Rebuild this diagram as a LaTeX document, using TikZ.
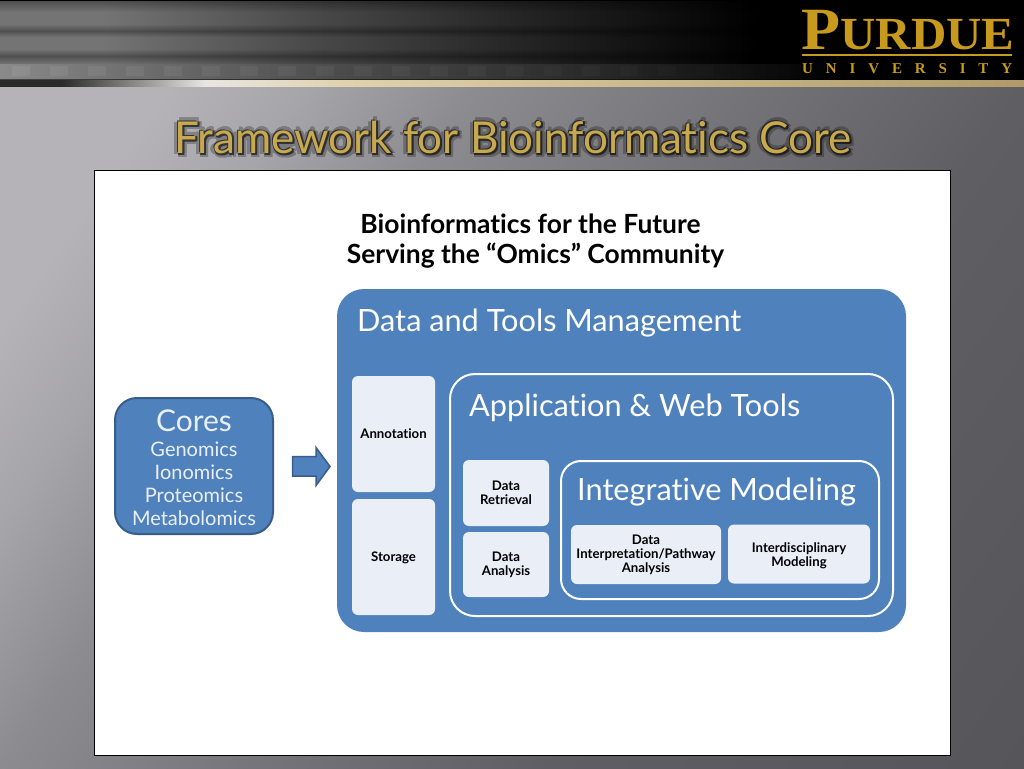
\documentclass[tikz,border=0pt]{standalone}
\usepackage{fontspec}
\setmainfont{Lato}[Ligatures=NoCommon]
\newfontfamily\logofont{Liberation Serif}
\usetikzlibrary{fadings}
\definecolor{corefill}{HTML}{4F81BD}
\definecolor{coreline}{HTML}{385D8A}
\definecolor{paleblue}{HTML}{EAEFF7}
\definecolor{goldtitle}{HTML}{C8A94E}
\definecolor{logogold}{HTML}{C79A1E}
\definecolor{hA}{HTML}{747474}
\definecolor{hB}{HTML}{4A4A4A}
\definecolor{hC}{HTML}{262626}
\definecolor{hE}{HTML}{8A8A8A}
\definecolor{bgA}{HTML}{B5B3B8}
\definecolor{bgA2}{HTML}{A6A5AA}
\definecolor{bgB}{HTML}{8C8C90}
\definecolor{bgC}{HTML}{747478}
\definecolor{bgD}{HTML}{5F5F63}
\definecolor{bgE}{HTML}{56565A}
\definecolor{barA}{HTML}{2A2A2A}
\definecolor{barB}{HTML}{E8E6E0}
\definecolor{barC}{HTML}{DFD2AC}
\definecolor{barD}{HTML}{B09A68}
\pgfdeclarehorizontalshading{bandA}{100bp}{color(0bp)=(hA);color(25bp)=(hA);color(30bp)=(hA);color(40bp)=(hB);color(50bp)=(hC);color(62bp)=(black);color(100bp)=(black)}
\pgfdeclarehorizontalshading{bandC}{100bp}{color(0bp)=(hE);color(25bp)=(hE);color(30bp)=(hA);color(42bp)=(hB);color(55bp)=(hC);color(66bp)=(black);color(100bp)=(black)}
\pgfdeclarehorizontalshading{barshade}{100bp}{color(0bp)=(barA);color(25bp)=(barA);color(28bp)=(barA);color(35bp)=(barB);color(42bp)=(barC);color(75bp)=(barD);color(100bp)=(barD)}
\pgfdeclarehorizontalshading{bgshade}{100bp}{color(0bp)=(bgA);color(33bp)=(bgA);color(37bp)=(bgA2);color(42bp)=(bgB);color(50bp)=(bgC);color(58bp)=(bgD);color(72bp)=(bgE);color(100bp)=(bgE)}
\tikzset{
  x=1pt,y=-1pt,
  px/.style={font=\fontsize{#1}{#1}\selectfont},
  panelbox/.style={draw=white,line width=2pt,fill=corefill,rounded corners=#1,inner sep=0pt},
  palebox/.style={fill=paleblue,rounded corners=6pt,inner sep=0pt,align=center,text=black,
    font=\fontsize{13.2}{14}\selectfont\bfseries},
  boxtitle/.style={text=white,inner sep=0pt,anchor=west,font=\fontsize{#1}{#1}\selectfont},
  headline/.style={text=black,inner sep=0pt,font=\fontsize{26.4}{27}\selectfont\bfseries},
}
\begin{tikzfadingfrompicture}[name=titleshadow]
  \foreach \dx/\dy in {6/6,2/6,6/2,-2/3,3/-2}{
    \node[text=transparent!75,inner sep=0pt,px=44] at (\dx,\dy) {Framework for Bioinformatics Core};
  }
  \foreach \dx/\dy in {4/4,2/4,4/2,1/1}{
    \node[text=transparent!30,inner sep=0pt,px=44] at (\dx,\dy) {Framework for Bioinformatics Core};
  }
\end{tikzfadingfrompicture}
\newcommand{\lineA}[1]{\fontsize{30}{32}\selectfont\rule{0pt}{26pt}#1}
\newcommand{\lineB}[1]{\fontsize{20}{23}\selectfont #1}
\begin{document}
\begin{tikzpicture}
\useasboundingbox (0,0) rectangle (1024,768);
% background
\begin{scope}
\clip (0,86) rectangle (1024,768);
\fill[shading=bgshade,shading angle=-35] (-188,-273) rectangle (1212,1127);
\end{scope}
% header
\fill[black] (0,0) rectangle (1024,80);
\fill[shading=bandA] (0,1.5) rectangle (1024,64);
\fill[shading=bandC] (0,64) rectangle (1024,79);
\fill[black,opacity=.3,path fading=north] (0,24) rectangle (1024,31);
\fill[black,opacity=.3,path fading=south] (0,31) rectangle (1024,37);
\fill[black,opacity=.3,path fading=north] (0,49) rectangle (1024,56);
\fill[black,opacity=.3,path fading=south] (0,56) rectangle (1024,64);
\fill[black,opacity=.3,path fading=south] (0,1.5) rectangle (1024,12);
\foreach \i in {0,...,21}{
  \pgfmathsetmacro{\op}{0.07*(1-\i/22)}
  \fill[white,opacity=\op] (12+\i*38,66) rectangle (30+\i*38,76);
}
\fill[black,opacity=.5] (0,79) rectangle (1024,80);
\fill[shading=barshade] (0,80) rectangle (1024,86);
% logo
\node[anchor=base west,inner sep=0pt,text=logogold,xscale=1.065] (logoname) at (801,49)
  {\logofont\bfseries\fontsize{60}{60}\selectfont P\fontsize{46}{46}\selectfont URDUE};
\coordinate (ruleL) at (802,55);
\coordinate (ruleR) at (1012,55);
\draw[logogold,line width=1.4pt] (ruleL) -- (ruleR);
\node[anchor=base west,inner sep=0pt,text=logogold] (logosub) at (802,73)
  {\logofont\bfseries\fontsize{15}{15}\selectfont\makebox[210pt][s]{U\hfill N\hfill I\hfill V\hfill E\hfill R\hfill S\hfill I\hfill T\hfill Y}};
% title
\fill[black,path fading=titleshadow,fit fading=false,fading transform={shift={(513,137)}}] (130,95) rectangle (900,168);
\node[text=goldtitle,inner sep=0pt,px=44] (title) at (513,137) {Framework for Bioinformatics Core};
% panel
\draw[black,fill=white,line width=1pt] (94,170) rectangle (950,755);
\node[headline] (head1) at (530.5,224) {Bioinformatics for the Future};
\node[headline] (head2) at (535.5,256) {Serving the “Omics” Community};
% cores
\node[draw=coreline,line width=2pt,fill=corefill,rounded corners=22pt,minimum width=158pt,minimum height=136pt,
  inner sep=0pt,align=center,text=paleblue,font=\fontsize{20}{23}\selectfont] (cores) at (194,466)
  {\lineA{Cores}\\[2pt] \lineB{Genomics}\\ \lineB{Ionomics}\\ \lineB{Proteomics}\\ \lineB{Metabolomics}};
% outer panels
\node[fill=corefill,rounded corners=27pt,minimum width=569pt,minimum height=343pt,inner sep=0pt] (dtm) at (621.5,460.5) {};
\node[panelbox=25pt,minimum width=443pt,minimum height=242pt] (app) at (671.5,495) {};
\node[panelbox=20pt,minimum width=318pt,minimum height=138pt] (integ) at (720,530) {};
% arrow
\draw[coreline,line width=1.5pt,fill=corefill,line join=miter]
  (292.5,456.5) -- (316,456.5) -- (316,447.5) -- (330,466.5) -- (316,485.5) -- (316,476) -- (292.5,476) -- cycle;
% titles
\node[boxtitle=30.7] (dtmlabel) at (357,323) {Data and Tools Management};
\node[boxtitle=30.7] (applabel) at (469,408) {Application \& Web Tools};
\node[boxtitle=30.7] (integlabel) at (577,492) {Integrative Modeling};
% pale boxes
\node[palebox,minimum width=83pt,minimum height=116pt] (annot) at (393.5,434) {};
\node[font=\fontsize{13.2}{14}\selectfont\bfseries,inner sep=0pt] (annotl) at (393.5,434) {Annotation};
\node[palebox,minimum width=83pt,minimum height=116pt] (stor) at (393.5,557) {};
\node[font=\fontsize{13.2}{14}\selectfont\bfseries,inner sep=0pt] (storl) at (393.5,557.5) {Storage};
\node[palebox,minimum width=86pt,minimum height=66pt] (retr) at (506,493) {Data\\Retrieval};
\node[palebox,minimum width=86pt,minimum height=65pt] (anal) at (506,564.5) {Data\\Analysis};
\node[palebox,minimum width=150pt,minimum height=59pt] (interp) at (646,554.5) {Data\\Interpretation/Pathway\\Analysis};
\node[palebox,minimum width=142pt,minimum height=59pt] (inter) at (799,554) {\rule{0pt}{14pt}Interdisciplinary\\Modeling};
\end{tikzpicture}
\end{document}
